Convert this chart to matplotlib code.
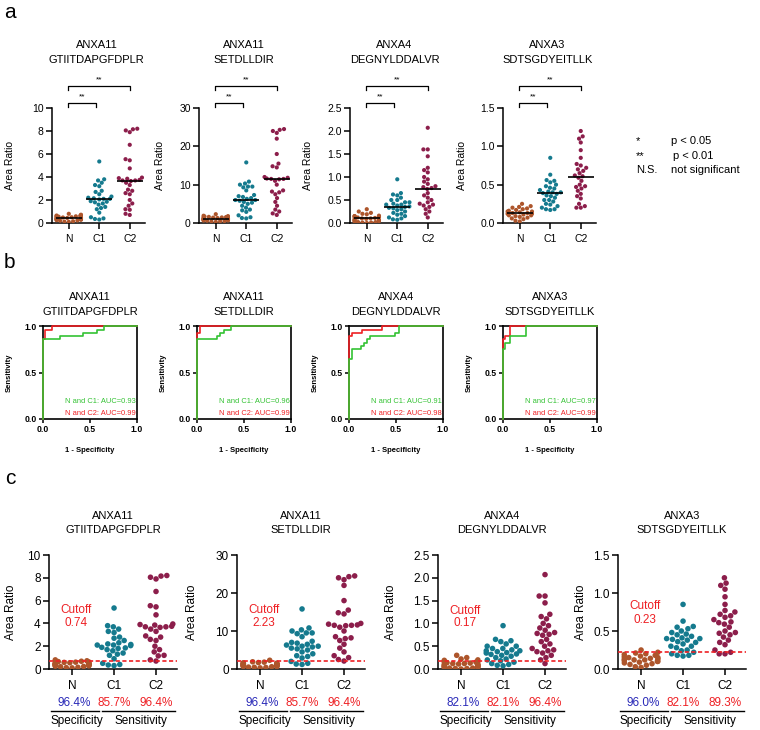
import warnings
warnings.filterwarnings("ignore")
import numpy as np
import pandas as pd
import matplotlib
matplotlib.use("Agg")
import matplotlib.pyplot as plt
import matplotlib.transforms as mtrans
from matplotlib import font_manager as fm
import seaborn as sns

# ---------------- data ----------------
groups = ["N", "C1", "C2"]
protein_names = ["ANXA11", "ANXA11", "ANXA4", "ANXA3"]
peptide_names = ["GTIITDAPGFDPLR", "SETDLLDIR", "DEGNYLDDALVR", "SDTSGDYEITLLK"]

p1_N = [0.80, 0.72, 0.68, 0.65, 0.62, 0.60, 0.58, 0.55, 0.52, 0.50, 0.48, 0.46, 0.45, 0.44,
        0.42, 0.40, 0.38, 0.36, 0.34, 0.32, 0.30, 0.28, 0.25, 0.22, 0.20, 0.15, 0.12, 0.10]
p1_C1 = [5.35, 3.80, 3.70, 3.50, 3.30, 3.20, 2.80, 2.70, 2.50, 2.30, 2.20, 2.15, 2.10, 2.10,
         2.05, 1.90, 1.85, 1.80, 1.70, 1.60, 1.40, 1.30, 1.20, 0.90, 0.50, 0.40, 0.35, 0.30]
p1_C2 = [8.20, 8.15, 8.05, 7.90, 6.80, 5.55, 5.45, 4.75, 3.95, 3.90, 3.85, 3.75, 3.70, 3.70,
         3.65, 3.50, 3.30, 2.90, 2.80, 2.60, 2.50, 2.00, 1.70, 1.50, 1.20, 1.15, 0.80, 0.70]

p2_N = [2.30, 1.90, 1.80, 1.70, 1.60, 1.55, 1.50, 1.45, 1.40, 1.30, 1.25, 1.20, 1.15, 1.10,
        1.05, 1.00, 0.95, 0.90, 0.85, 0.80, 0.75, 0.70, 0.65, 0.60, 0.50, 0.45, 0.40, 0.30]
p2_C1 = [15.8, 10.8, 10.3, 10.0, 9.5, 9.5, 9.3, 8.5, 7.3, 7.0, 6.8, 6.5, 6.3, 6.0,
         6.0, 5.8, 5.5, 5.3, 5.0, 4.5, 4.0, 3.5, 3.3, 2.9, 2.0, 1.5, 1.3, 1.2]
p2_C2 = [24.5, 24.3, 24.0, 23.5, 22.0, 18.0, 15.5, 14.8, 14.5, 12.0, 11.8, 11.6, 11.5, 11.5,
         11.4, 11.0, 10.0, 8.5, 8.2, 8.0, 7.5, 6.5, 5.5, 4.5, 3.5, 3.0, 2.5, 2.1]

p3_N = [0.30, 0.25, 0.22, 0.20, 0.19, 0.16, 0.15, 0.15, 0.14, 0.13, 0.12, 0.12, 0.11, 0.10,
        0.10, 0.09, 0.08, 0.07, 0.06, 0.05, 0.05, 0.04, 0.03, 0.02, 0.02, 0.01, 0.01, 0.00]
p3_C1 = [0.95, 0.65, 0.62, 0.60, 0.55, 0.50, 0.50, 0.45, 0.45, 0.42, 0.40, 0.40, 0.38, 0.36,
         0.35, 0.33, 0.32, 0.30, 0.28, 0.25, 0.22, 0.20, 0.18, 0.15, 0.12, 0.10, 0.08, 0.07]
p3_C2 = [2.07, 1.60, 1.60, 1.45, 1.20, 1.15, 1.10, 1.00, 0.95, 0.90, 0.85, 0.80, 0.78, 0.76,
         0.74, 0.65, 0.60, 0.55, 0.50, 0.45, 0.42, 0.40, 0.38, 0.35, 0.30, 0.25, 0.20, 0.12]

p4_N = [0.25, 0.22, 0.21, 0.20, 0.19, 0.18, 0.17, 0.16, 0.15, 0.15, 0.14, 0.13, 0.13, 0.12,
        0.12, 0.11, 0.10, 0.10, 0.09, 0.08, 0.07, 0.06, 0.05, 0.03, 0.02]
p4_C1 = [0.85, 0.63, 0.56, 0.55, 0.53, 0.50, 0.48, 0.46, 0.45, 0.43, 0.41, 0.40, 0.40, 0.39,
         0.38, 0.36, 0.35, 0.33, 0.30, 0.30, 0.28, 0.25, 0.24, 0.22, 0.20, 0.18, 0.18, 0.17]
p4_C2 = [1.20, 1.13, 1.10, 1.05, 0.95, 0.85, 0.77, 0.75, 0.72, 0.70, 0.68, 0.65, 0.62, 0.61,
         0.59, 0.55, 0.50, 0.48, 0.47, 0.45, 0.42, 0.38, 0.35, 0.32, 0.25, 0.22, 0.20, 0.20]

ymax = [10, 30, 2.5, 1.5]
yticks = [[0, 2, 4, 6, 8, 10], [0, 10, 20, 30], [0.0, 0.5, 1.0, 1.5, 2.0, 2.5], [0.0, 0.5, 1.0, 1.5]]
ytick_labels = [["0", "2", "4", "6", "8", "10"], ["0", "10", "20", "30"],
                ["0.0", "0.5", "1.0", "1.5", "2.0", "2.5"], ["0.0", "0.5", "1.0", "1.5"]]

cutoffs = [0.74, 2.23, 0.17, 0.23]
cutoff_labels = ["0.74", "2.23", "0.17", "0.23"]
specificity = ["96.4%", "96.4%", "82.1%", "96.0%"]
sens_c1 = ["85.7%", "85.7%", "82.1%", "82.1%"]
sens_c2 = ["96.4%", "96.4%", "96.4%", "89.3%"]

# ROC step data (fpr, tpr)
roc_c1_fpr = [[0, 0, 0.18, 0.43, 0.57, 0.65, 1.0],
              [0, 0, 0.21, 0.25, 0.29, 0.36, 1.0],
              [0, 0, 0.036, 0.13, 0.16, 0.19, 0.22, 0.49, 0.53, 1.0],
              [0, 0, 0.018, 0.07, 0.24, 1.0]]
roc_c1_tpr = [[0, 0.857, 0.89, 0.93, 0.96, 1.0, 1.0],
              [0, 0.857, 0.89, 0.93, 0.96, 1.0, 1.0],
              [0, 0.64, 0.75, 0.79, 0.82, 0.86, 0.89, 0.93, 1.0, 1.0],
              [0, 0.75, 0.82, 0.89, 1.0, 1.0]]
roc_c2_fpr = [[0, 0, 0.025, 0.10, 1.0],
              [0, 0, 0.036, 1.0],
              [0, 0, 0.036, 0.14, 0.355, 1.0],
              [0, 0, 0.018, 0.07, 1.0]]
roc_c2_tpr = [[0, 0.86, 0.96, 1.0, 1.0],
              [0, 0.93, 1.0, 1.0],
              [0, 0.89, 0.93, 0.96, 1.0, 1.0],
              [0, 0.86, 0.89, 1.0, 1.0]]
auc_c1 = ["0.93", "0.96", "0.91", "0.97"]
auc_c2 = ["0.99", "0.99", "0.98", "0.99"]

all_data = [(p1_N, p1_C1, p1_C2), (p2_N, p2_C1, p2_C2), (p3_N, p3_C1, p3_C2), (p4_N, p4_C1, p4_C2)]

# ---------------- style ----------------
names = {f.name for f in fm.fontManager.ttflist}
BASE = "Liberation Sans" if "Liberation Sans" in names else "DejaVu Sans"
NARROW = "Liberation Sans Narrow" if "Liberation Sans Narrow" in names else None
plt.rcParams["font.family"] = [BASE, "DejaVu Sans"]
TITLE_KW = dict(fontsize=9, family=[NARROW, "DejaVu Sans"]) if NARROW else dict(fontsize=8.0)
AUC_KW = dict(fontsize=6.6, family=[NARROW, "DejaVu Sans"]) if NARROW else dict(fontsize=5.4)

col_N = "#ad552b"
col_C1 = "#157a8e"
col_C2 = "#8c1e4b"
palette = {"N": col_N, "C1": col_C1, "C2": col_C2}
RED = "#ee2024"
GREEN = "#33c233"
BLUE = "#2a2ab8"

W, H = 760, 730
fig = plt.figure(figsize=(W / 100, H / 100), dpi=100)


def add_ax(l, t, w, h):
    return fig.add_axes([l / W, 1 - (t + h) / H, w / W, h / H])


def ftext(x, y, s, **kw):
    kw.setdefault("ha", "center")
    kw.setdefault("va", "center")
    fig.text(x / W, 1 - y / H, s, **kw)


def make_df(d):
    vals, cats = [], []
    for g, v in zip(groups, d):
        vals += list(v)
        cats += [g] * len(v)
    return pd.DataFrame({"group": cats, "value": vals})


def style_scatter_ax(ax, i, fs_tick, fs_lab, label_off_px, w_px):
    for s in ["top", "right"]:
        ax.spines[s].set_visible(False)
    for s in ["left", "bottom"]:
        ax.spines[s].set_linewidth(1.1)
    ax.set_xlim(-0.55, 2.5)
    ax.set_ylim(0, ymax[i])
    ax.set_yticks(yticks[i])
    ax.set_yticklabels(ytick_labels[i])
    ax.set_xticks([0, 1, 2])
    ax.set_xticklabels(groups)
    ax.tick_params(direction="out", length=4, width=1.1, labelsize=fs_tick, pad=2)
    ax.tick_params(axis="x", pad=4)
    ax.set_xlabel("")
    ax.set_ylabel("Area Ratio", fontsize=fs_lab)
    ax.yaxis.set_label_coords(label_off_px / w_px, 0.5)
    ax.set_facecolor("none")


# ---------------- panel labels & legend ----------------
ftext(10, 12, "a", fontsize=15)
ftext(9, 262, "b", fontsize=15)
ftext(10, 479, "c", fontsize=15)

leg_fs = 8
fig.text(636 / W, 1 - 141 / H, "*", fontsize=leg_fs, ha="left", va="center")
fig.text(671 / W, 1 - 141 / H, "p < 0.05", fontsize=leg_fs, ha="left", va="center")
fig.text(636 / W, 1 - 156 / H, "**", fontsize=leg_fs, ha="left", va="center")
fig.text(673 / W, 1 - 156 / H, "p < 0.01", fontsize=leg_fs, ha="left", va="center")
fig.text(636 / W, 1 - 170 / H, "N.S.", fontsize=leg_fs, ha="left", va="center")
fig.text(671 / W, 1 - 170 / H, "not significant", fontsize=leg_fs, ha="left", va="center")

# ---------------- panel a ----------------
a_lefts = [52, 199, 350, 503]
a_w, a_top, a_h = 93, 108, 115
a_lab_off = [-37, -34, -37, -36]
for i in range(4):
    ax = add_ax(a_lefts[i], a_top, a_w, a_h)
    df = make_df(all_data[i])
    sns.swarmplot(data=df, x="group", y="value", hue="group", palette=palette, order=groups,
                  hue_order=groups, size=3.0, linewidth=0, legend=False, ax=ax, zorder=3)
    for j, v in enumerate(all_data[i]):
        ax.hlines(np.median(v), j - 0.42, j + 0.42, color="black", lw=1.2, zorder=6)
    style_scatter_ax(ax, i, 7.5, 7.5, a_lab_off[i], a_w)
    cx = a_lefts[i] + a_w / 2 - 2
    ftext(cx, 45, protein_names[i], **TITLE_KW)
    ftext(cx, 60, peptide_names[i], **TITLE_KW)
    tr = mtrans.blended_transform_factory(ax.transData, ax.transAxes)
    # N vs C1 bracket
    ax.plot([-0.03, -0.03, 0.88, 0.88], [1.009, 1.043, 1.043, 1.009], color="black", lw=0.9,
            transform=tr, clip_on=False)
    ax.text(0.43, 1.10, "**", fontsize=6, ha="center", va="center", transform=tr)
    # N vs C2 bracket
    ax.plot([-0.03, -0.03, 2.0, 2.0], [1.157, 1.19, 1.19, 1.157], color="black", lw=0.9,
            transform=tr, clip_on=False)
    ax.text(0.99, 1.245, "**", fontsize=6, ha="center", va="center", transform=tr)

# ---------------- panel b ----------------
b_lefts = [43, 197, 349, 503]
b_w, b_top, b_h = 94, 326, 93
for i in range(4):
    ax = add_ax(b_lefts[i], b_top, b_w, b_h)
    ax.step(roc_c2_fpr[i], roc_c2_tpr[i], where="post", color=RED, lw=1.2, zorder=3, clip_on=False)
    ax.step(roc_c1_fpr[i], roc_c1_tpr[i], where="post", color=GREEN, lw=1.2, zorder=4, clip_on=False)
    ax.set_xlim(0, 1)
    ax.set_ylim(0, 1)
    ax.set_xticks([0, 0.5, 1.0])
    ax.set_yticks([0, 0.5, 1.0])
    ax.set_xticklabels(["0.0", "0.5", "1.0"], fontweight="bold")
    ax.set_yticklabels(["0.0", "0.5", "1.0"], fontweight="bold")
    ax.tick_params(direction="out", length=3, width=1.1, labelsize=6.2, pad=1.5)
    for s in ax.spines.values():
        s.set_linewidth(1.2)
    ax.set_ylabel("Sensitivity", fontsize=5.5, fontweight="bold")
    ax.yaxis.set_label_coords(-30 / b_w, 0.5)
    ax.set_xlabel("1 - Specificity", fontsize=5.5, fontweight="bold")
    ax.xaxis.set_label_coords(0.5, -28 / b_h)
    ax.text(0.99, 0.19, "N and C1: AUC=" + auc_c1[i], color=GREEN, ha="right",
            va="center", transform=ax.transAxes, **AUC_KW)
    ax.text(0.99, 0.055, "N and C2: AUC=" + auc_c2[i], color=RED, ha="right",
            va="center", transform=ax.transAxes, **AUC_KW)
    cx = b_lefts[i] + b_w / 2
    ftext(cx, 297, protein_names[i], **TITLE_KW)
    ftext(cx, 312, peptide_names[i], **TITLE_KW)

# ---------------- panel c ----------------
c_lefts = [49, 237, 438, 618]
c_w, c_top, c_h = 128, 555, 114
c_lab_off = [-32, -39, -41, -31]
cut_y = [(0.52, 0.40), (0.52, 0.40), (0.51, 0.40), (0.55, 0.43)]
for i in range(4):
    ax = add_ax(c_lefts[i], c_top, c_w, c_h)
    df = make_df(all_data[i])
    sns.swarmplot(data=df, x="group", y="value", hue="group", palette=palette, order=groups,
                  hue_order=groups, size=4.0, linewidth=0, legend=False, ax=ax, zorder=3)
    ax.axhline(cutoffs[i], color=RED, lw=1.2, ls=(0, (2.5, 1.5)), zorder=5)
    style_scatter_ax(ax, i, 8.5, 8.5, c_lab_off[i], c_w)
    tr = mtrans.blended_transform_factory(ax.transData, ax.transAxes)
    ax.text(0.1, cut_y[i][0], "Cutoff", color=RED, fontsize=8.5, ha="center", va="center", transform=tr)
    ax.text(0.1, cut_y[i][1], cutoff_labels[i], color=RED, fontsize=8.5, ha="center", va="center", transform=tr)
    ax.text(0.05, -0.30, specificity[i], color=BLUE, fontsize=8.5, ha="center", va="center", transform=tr)
    ax.text(1.0, -0.30, sens_c1[i], color=RED, fontsize=8.5, ha="center", va="center", transform=tr)
    ax.text(2.0, -0.30, sens_c2[i], color=RED, fontsize=8.5, ha="center", va="center", transform=tr)
    ax.plot([-0.5, 0.65], [-0.368, -0.368], color="black", lw=1.0, transform=tr, clip_on=False)
    ax.plot([0.72, 2.45], [-0.368, -0.368], color="black", lw=1.0, transform=tr, clip_on=False)
    ax.text(0.12, -0.46, "Specificity", fontsize=8.5, ha="center", va="center", transform=tr)
    ax.text(1.65, -0.46, "Sensitivity", fontsize=8.5, ha="center", va="center", transform=tr)
    cx = c_lefts[i] + c_w / 2
    ftext(cx, 516, protein_names[i], **TITLE_KW)
    ftext(cx, 530, peptide_names[i], **TITLE_KW)

fig.savefig("out.png", dpi=100)
